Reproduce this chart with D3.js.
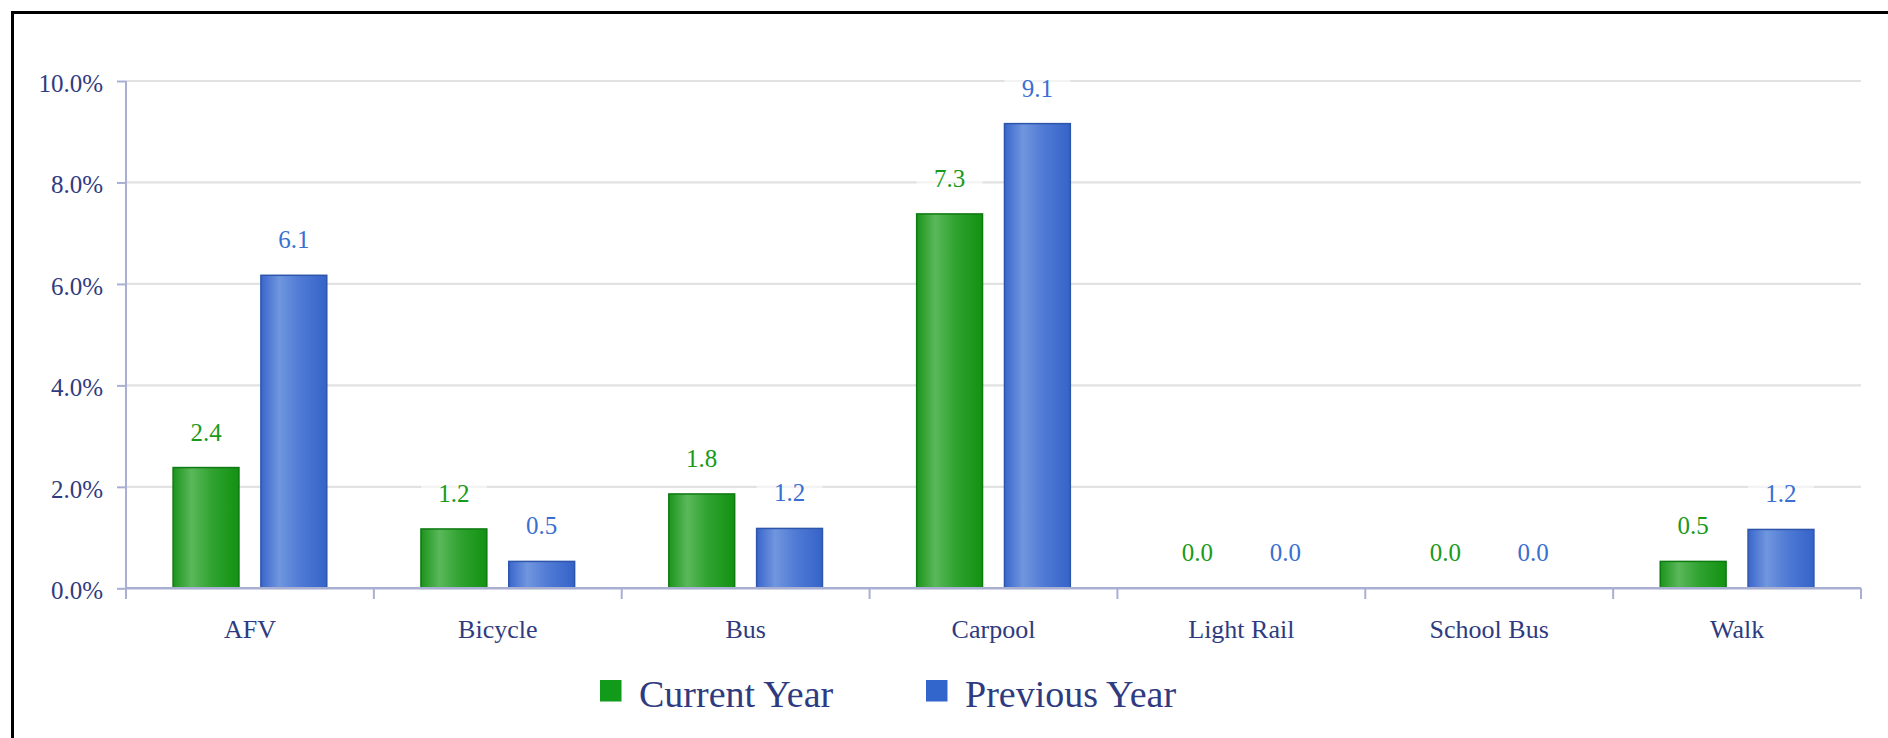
<!DOCTYPE html>
<html>
<head>
<meta charset="utf-8">
<script src="https://cdn.jsdelivr.net/npm/d3@7"></script>
<style>
  html, body { margin: 0; padding: 0; background: #fff; overflow: hidden; }
  svg { display: block; }
  text { font-family: "Liberation Serif", "Times New Roman", "DejaVu Serif", serif; }
</style>
</head>
<body>
<svg id="chart" width="1888" height="738"></svg>
<script>
// ---- data ----
const categories = ["AFV", "Bicycle", "Bus", "Carpool", "Light Rail", "School Bus", "Walk"];
const seriesNames = ["Current Year", "Previous Year"];
const currentYear = [2.38, 1.17, 1.86, 7.38, 0.0, 0.0, 0.53];
const previousYear = [6.17, 0.53, 1.18, 9.16, 0.0, 0.0, 1.16];
const currentLabels = ["2.4", "1.2", "1.8", "7.3", "0.0", "0.0", "0.5"];
const previousLabels = ["6.1", "0.5", "1.2", "9.1", "0.0", "0.0", "1.2"];
const yTicks = [0, 2, 4, 6, 8, 10];

const svg = d3.select("#chart");
const defs = svg.append("defs");

const textColor = "#2F3B80";
const axisColor = "#A9AFD2";
const gridColor = "#E2E2E2";
const seriesColors = ["#129A1A", "#3366CC"];
const labelColors = ["#1A9A1A", "#3A6FD2"];
const serif = "Liberation Serif, Times New Roman, serif";

function gradient(id, stops) {
  const g = defs.append("linearGradient").attr("id", id)
    .attr("x1", "0%").attr("x2", "100%").attr("y1", "0%").attr("y2", "0%");
  stops.forEach(s => g.append("stop").attr("offset", s[0]).attr("stop-color", s[1]));
}
gradient("gGreen", [["0%", "#1C941C"], ["28%", "#5AB85A"], ["60%", "#2FA22F"], ["100%", "#129212"]]);
gradient("gBlue", [["0%", "#3A66CC"], ["28%", "#7096DE"], ["60%", "#4F7AD5"], ["100%", "#3563C8"]]);
const fills = ["url(#gGreen)", "url(#gBlue)"];
const strokes = ["#0E7A12", "#2D55AA"];

// outer frame
svg.append("rect").attr("x", 12.5).attr("y", 12.5).attr("width", 3000).attr("height", 3000)
  .attr("fill", "none").attr("stroke", "#000").attr("stroke-width", 3);

// scales
const x = d3.scaleBand().domain(categories).range([126, 1861]).padding(0);
const bw = x.bandwidth();
const xs = d3.scaleBand().domain(seriesNames).range([bw * 0.19, bw * 0.81]).paddingInner(0.25).paddingOuter(0);
const y = d3.scaleLinear().domain([0, 10]).range([588.3, 81]);

// gridlines
svg.append("g").selectAll("line").data(yTicks.filter(t => t > 0)).join("line")
  .attr("x1", 126).attr("x2", 1861)
  .attr("y1", d => y(d)).attr("y2", d => y(d))
  .attr("stroke", gridColor).attr("stroke-width", 2.2);

// y axis
const yAxis = svg.append("g").attr("transform", "translate(126,0)")
  .call(d3.axisLeft(y).tickValues(yTicks).tickSize(9).tickPadding(14)
    .tickFormat(d => d3.format(".1f")(d) + "%"));
yAxis.attr("font-family", serif);
yAxis.select(".domain").remove();
yAxis.selectAll(".tick line").attr("stroke", axisColor).attr("stroke-width", 2);
yAxis.selectAll(".tick text").attr("fill", textColor).attr("font-size", 25)
  .attr("dy", "0.42em");
svg.append("line").attr("x1", 126).attr("x2", 126).attr("y1", y(10)).attr("y2", 599)
  .attr("stroke", axisColor).attr("stroke-width", 2);

// bars
const groups = svg.append("g").selectAll("g").data(categories).join("g")
  .attr("transform", d => `translate(${x(d)},0)`);

const vals = [currentYear, previousYear];
const labs = [currentLabels, previousLabels];

seriesNames.forEach((s, si) => {
  groups.append("rect")
    .attr("x", xs(s))
    .attr("width", xs.bandwidth())
    .attr("y", (d, i) => y(vals[si][i]))
    .attr("height", (d, i) => y(0) - y(vals[si][i]))
    .attr("fill", fills[si])
    .attr("stroke", (d, i) => vals[si][i] > 0 ? strokes[si] : "none")
    .attr("stroke-width", 1.5);
});

// x axis
svg.append("line").attr("x1", 126).attr("x2", 1861).attr("y1", y(0)).attr("y2", y(0))
  .attr("stroke", axisColor).attr("stroke-width", 2.5);
const boundaries = categories.map(c => x(c)).concat([x(categories[categories.length - 1]) + bw]);
svg.append("g").selectAll("line").data(boundaries).join("line")
  .attr("x1", d => d).attr("x2", d => d)
  .attr("y1", y(0)).attr("y2", 599)
  .attr("stroke", axisColor).attr("stroke-width", 2);
svg.append("g").selectAll("text").data(categories).join("text")
  .attr("x", d => x(d) + bw / 2).attr("y", 637.5)
  .attr("text-anchor", "middle").attr("font-size", 26).attr("fill", textColor)
  .text(d => d);

// data labels
seriesNames.forEach((s, si) => {
  const lg = groups.append("g");
  lg.append("rect")
    .attr("x", xs(s)).attr("width", xs.bandwidth())
    .attr("y", (d, i) => y(vals[si][i]) - 27 - 22).attr("height", 28)
    .attr("fill", "#fff").attr("opacity", 0.6);
  lg.append("text")
    .attr("x", xs(s) + xs.bandwidth() / 2)
    .attr("y", (d, i) => y(vals[si][i]) - 27)
    .attr("text-anchor", "middle").attr("font-size", 25).attr("fill", labelColors[si])
    .text((d, i) => labs[si][i]);
});

// legend
const legendX = [600, 926];
const lg = svg.append("g").selectAll("g").data(seriesNames).join("g")
  .attr("transform", (d, i) => `translate(${legendX[i]},680)`);
lg.append("rect").attr("width", 21.5).attr("height", 21.5)
  .attr("fill", (d, i) => seriesColors[i]);
lg.append("text").attr("x", 39).attr("y", 26.7)
  .attr("font-size", 38).attr("fill", textColor).text(d => d);
</script>
</body>
</html>
